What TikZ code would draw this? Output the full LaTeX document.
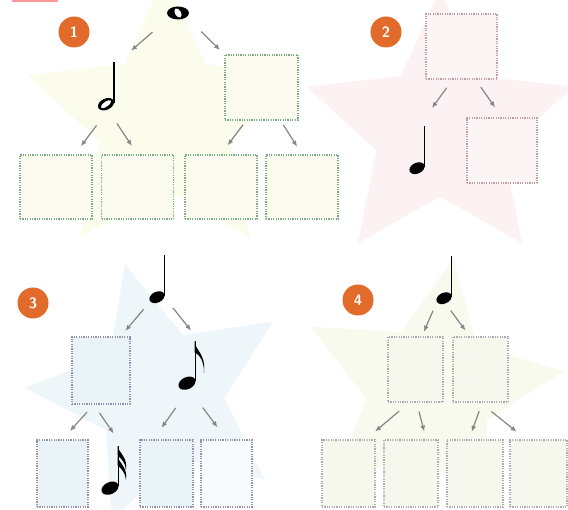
\documentclass[tikz,border=0pt]{standalone}
\usepackage{tikz}
\usetikzlibrary{calc, arrows.meta, shapes.geometric, positioning}
\definecolor{numorange}{RGB}{226,106,42}
\definecolor{arrgray}{RGB}{135,135,135}
\definecolor{star1}{RGB}{252,252,237}
\definecolor{star2}{RGB}{252,242,244}
\definecolor{star3}{RGB}{238,246,250}
\definecolor{star4}{RGB}{248,250,238}
\definecolor{line1}{RGB}{125,170,135}
\definecolor{fill1}{RGB}{250,251,238}
\definecolor{line2}{RGB}{190,160,160}
\definecolor{fill2}{RGB}{252,245,246}
\definecolor{line3}{RGB}{150,145,170}
\definecolor{fill3}{RGB}{234,243,247}
\definecolor{line4}{RGB}{170,172,180}
\definecolor{fill4}{RGB}{246,248,238}
\newcommand{\wholenote}[1]{%
  \fill (#1) ellipse (11 and 6.5);
  \fill[white, rotate around={30:(#1)}] (#1) ellipse (3 and 5);}
\newcommand{\halfnote}[1]{%
  \begin{scope}[shift={(#1.south)}]
    \fill[rotate around={25:(-2,-6)}] (-2,-6) ellipse (8.5 and 5.6);
    \fill[white, rotate around={35:(-2,-6)}] (-2,-6) ellipse (6 and 2.4);
    \draw[line width=1.5pt] (5.8,-7) -- (5.8,-48);
  \end{scope}}
\newcommand{\quarternote}[1]{%
  \begin{scope}[shift={(#1.south)}]
    \fill[rotate around={25:(-2,-6)}] (-2,-6) ellipse (8 and 5.4);
    \draw[line width=1.5pt] (5.4,-7) -- (5.4,-48);
  \end{scope}}
\newcommand{\eighthnote}[1]{%
  \begin{scope}[shift={(#1.south)}]
    \fill[rotate around={25:(-2,-6)}] (-2,-6) ellipse (9 and 6);
    \draw[line width=1.5pt] (6.3,-8) -- (6.3,-48);
    \fill (5.6,-48) .. controls (6.5,-38) and (17,-36) .. (15,-16)
      .. controls (15,-28) and (11,-34) .. (5.6,-37) -- cycle;
  \end{scope}}
\newcommand{\sixteenthnote}[1]{%
  \begin{scope}[shift={(#1.south)}]
    \fill[rotate around={25:(-2,-6)}] (-2,-6) ellipse (9 and 6);
    \draw[line width=1.5pt] (6.3,-8) -- (6.3,-48);
    \foreach \fy in {0,10}
      \fill (5.6,-48+\fy) .. controls (7,-41+\fy) and (16,-37+\fy) .. (14,-24+\fy)
        .. controls (13.5,-31+\fy) and (10,-35+\fy) .. (5.6,-39+\fy) -- cycle;
  \end{scope}}

\begin{document}
\begin{tikzpicture}[>={Latex[length=6pt,width=5pt]}, x=1pt, y=-1pt,
  num/.style={circle, fill=numorange, text=white, inner sep=0, minimum size=31,
    font=\sffamily\bfseries\fontsize{15}{15}\selectfont},
  notebox/.style={rectangle, inner sep=0, minimum width=20, minimum height=48},
  box/.style={rectangle, inner sep=0, line width=1.4pt, dash pattern=on 1.2pt off 1.2pt},
  box1/.style={box, draw=line1, fill=fill1, minimum width=72, minimum height=64},
  box2/.style={box, draw=line2, fill=fill2, minimum width=71, minimum height=65},
  box3/.style={box, draw=line3, fill=fill3, minimum height=67},
  box4/.style={box, draw=line4, fill=fill4},
  arr/.style={->, draw=arrgray, fill=arrgray, line width=1.2pt},
  bgstar/.style={star, star points=5, star point ratio=2.1, inner sep=0}]
\useasboundingbox (0,0) rectangle (568,510);

% faint stars behind
\begin{scope}
  \clip (0,0) rectangle (568,510);
  \node[bgstar, fill=star1, minimum size=290] (st1) at (165,120) {};
  \node[bgstar, fill=star2, minimum size=280] (st2) at (440,130) {};
  \node[bgstar, fill=star3, minimum size=270, rotate=15] (st3) at (160,395) {};
  \node[bgstar, fill=star4, minimum size=270, rotate=-10] (st4) at (430,390) {};
\end{scope}
\draw[red!40, line width=1.5pt] (12,1) -- (58,1);

% 1
\node[num] (n1) at (74,32) {1};
\node[notebox, minimum width=22, minimum height=13] (w1) at (178,13) {};
\wholenote{w1}
\node[notebox] (h1) at (108,86) {};
\halfnote{h1}
\node[box1, minimum width=73, minimum height=65] (b1) at (261.5,87.5) {};
\foreach \n/\c in {1/56, 2/137.5, 3/221, 4/302}
  \node[box1] (b1\n) at (\c,187) {};
\draw[arr, shorten <=19pt, shorten >=17pt] (w1.south west) -- (h1.north east);
\draw[arr, shorten <=17pt, shorten >=6pt] (w1.south east) -- (b1.north west);
\draw[arr, shorten <=19pt, shorten >=10pt] (h1.south) -- (b11.60);
\draw[arr, shorten <=16pt, shorten >=10pt] (h1.south) -- (b12.north);
\draw[arr, shorten <=5pt, shorten >=11pt] (b1.245) -- (b13.north);
\draw[arr, shorten <=5pt, shorten >=9pt] (b1.300) -- (b14.north);

% 2
\node[num] (n2) at (386,32) {2};
\node[box2] (b2) at (461.5,46.5) {};
\node[notebox] (q2) at (419,150) {};
\quarternote{q2}
\node[box2, minimum width=70] (b21) at (502,150.5) {};
\draw[arr, shorten <=10pt, shorten >=22pt] (b2.255) -- (q2.north);
\draw[arr, shorten <=9pt, shorten >=12pt] (b2.293) -- (b21.north);

% 3
\node[num] (n3) at (33,303) {3};
\node[notebox] (q3) at (159,279) {};
\quarternote{q3}
\node[box3, minimum width=58] (b3) at (101,370.5) {};
\node[notebox] (e3) at (189,365) {};
\eighthnote{e3}
\node[box3, minimum width=51] (b31) at (62.5,473.5) {};
\node[notebox] (s3) at (112,470) {};
\sixteenthnote{s3}
\node[box3, minimum width=53] (b33) at (166.5,473.5) {};
\node[box3, minimum width=51, fill=fill3!40] (b34) at (226.5,473.5) {};
\draw[arr, shorten <=8pt, shorten >=7pt] (q3.south west) -- (b3.60);
\draw[arr, shorten <=6pt, shorten >=13pt] (q3.south east) -- (e3.north east);
\draw[arr, shorten <=10pt, shorten >=11pt] (b3.258) -- (b31.north);
\draw[arr, shorten <=10pt, shorten >=15pt] (b3.258) -- (s3.north east);
\draw[arr, shorten <=23pt, shorten >=14pt] (e3.south) -- (b33.111);
\draw[arr, shorten <=23pt, shorten >=15pt] (e3.south) -- (b34.north);

% 4
\node[num] (n4) at (358,300) {4};
\node[notebox] (q4) at (446,280) {};
\quarternote{q4}
\node[box4, minimum width=55, minimum height=65] (b41) at (415.5,369.5) {};
\node[box4, minimum width=55, minimum height=65] (b42) at (480.5,369.5) {};
\foreach \n/\c/\w in {3/348.5/53, 4/411/54, 5/475/56, 6/538.5/57}
  \node[box4, minimum width=\w, minimum height=67] (b4\n) at (\c,473.5) {};
\draw[arr, shorten <=7pt, shorten >=5pt] (q4.south west) -- (b41.79);
\draw[arr, shorten <=8pt, shorten >=7pt] (q4.south) -- (b42.108);
\draw[arr, shorten <=13pt, shorten >=12pt] (b41.259) -- (b43.63);
\draw[arr, shorten <=9pt, shorten >=8pt] (b41.272) -- (b44.66);
\draw[arr, shorten <=9pt, shorten >=8pt] (b42.273) -- (b45.100);
\draw[arr, shorten <=14pt, shorten >=12pt] (b42.south) -- (b46.110);

\end{tikzpicture}
\end{document}
